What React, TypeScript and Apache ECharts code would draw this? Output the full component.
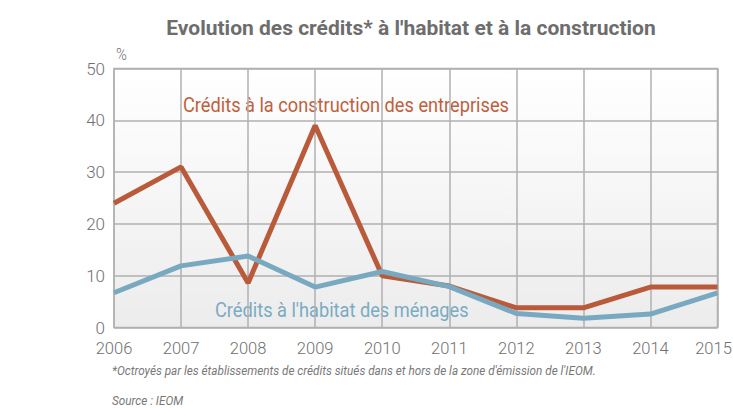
import React, { useEffect, useRef } from "react";
import * as echarts from "echarts";

const years = ["2006", "2007", "2008", "2009", "2010", "2011", "2012", "2013", "2014", "2015"];
const construction = [24, 31, 8.6, 39, 10, 8, 3.8, 3.8, 7.8, 7.8];
const habitat = [6.7, 11.9, 13.8, 7.8, 10.8, 7.9, 2.7, 1.8, 2.6, 6.7];

const RB = "Roboto, sans-serif";

export default function App() {
  const ref = useRef<HTMLDivElement>(null);
  useEffect(() => {
    if (!ref.current) return;
    const chart = echarts.init(ref.current, undefined, { renderer: "svg" });
    const lastYear = years[years.length - 1];
    chart.setOption({
      animation: false,
      title: {
        text: "Evolution des crédits* à l'habitat et à la construction",
        left: 406,
        top: 12,
        textAlign: "center",
        textStyle: { fontFamily: RB, fontWeight: "bold", fontSize: 21, color: "#6d6d6d" },
      },
      grid: {
        left: 114,
        right: 733 - 717.5,
        top: 68.5,
        bottom: 408 - 327.5,
        outerBoundsMode: "none",
        containLabel: false,
        show: true,
        borderColor: "#b0b0b0",
        borderWidth: 1.5,
        backgroundColor: new echarts.graphic.LinearGradient(0, 0, 0, 1, [
          { offset: 0, color: "#ffffff" },
          { offset: 1, color: "#ececec" },
        ]),
      },
      xAxis: {
        type: "category",
        data: years,
        boundaryGap: false,
        axisLine: { show: false },
        axisTick: { show: false },
        axisLabel: {
          interval: 0,
          hideOverlap: false,
          fontFamily: RB,
          fontWeight: 300,
          fontSize: 16.5,
          color: "#707070",
          margin: 12,
          formatter: (v: string) => (v === lastYear ? "{last|" + v + "}" : v),
          rich: {
            last: { fontFamily: RB, fontWeight: 300, fontSize: 16.5, color: "#707070", padding: [0, 8, 0, 0] },
          },
        },
        splitLine: { show: true, interval: 0, lineStyle: { color: "#b0b0b0", width: 1.5 } },
      },
      yAxis: {
        type: "value",
        min: 0,
        max: 50,
        interval: 10,
        axisLine: { show: false },
        axisTick: { show: false },
        axisLabel: { fontFamily: RB, fontWeight: 300, fontSize: 17, color: "#707070", margin: 9 },
        splitLine: { show: true, lineStyle: { color: "#b0b0b0", width: 1.5 } },
      },
      series: [
        {
          type: "line",
          data: construction,
          symbol: "none",
          lineStyle: { color: "#b95b3a", width: 5 },
          z: 3,
        },
        {
          type: "line",
          data: habitat,
          symbol: "none",
          lineStyle: { color: "#79a9c0", width: 5 },
          z: 4,
        },
      ],
      graphic: [
        {
          type: "text",
          x: 116,
          y: 46,
          scaleX: 0.87,
          style: { text: "%", fontFamily: RB, fontWeight: 300, fontSize: 17, fill: "#707070" },
        },
        {
          type: "text",
          x: 183,
          y: 95,
          scaleX: 0.867,
          style: { text: "Crédits à la construction des entreprises", fontFamily: RB, fontSize: 21, fill: "#c0603c" },
        },
        {
          type: "text",
          x: 215,
          y: 300,
          scaleX: 0.867,
          style: { text: "Crédits à l'habitat des ménages", fontFamily: RB, fontSize: 21, fill: "#7aabc3" },
        },
        {
          type: "text",
          x: 112,
          y: 363,
          scaleX: 0.87,
          style: {
            text: "*Octroyés par les établissements de crédits situés dans et hors de la zone d'émission de l'IEOM.",
            fontFamily: RB,
            fontStyle: "italic",
            fontSize: 13.5,
            fill: "#787878",
          },
        },
        {
          type: "text",
          x: 112,
          y: 393,
          scaleX: 0.87,
          style: { text: "Source : IEOM", fontFamily: RB, fontStyle: "italic", fontSize: 13.5, fill: "#787878" },
        },
      ],
    });
    return () => chart.dispose();
  }, []);
  return <div ref={ref} style={{ width: 733, height: 408, position: "absolute", left: 0, top: 0 }} />;
}
